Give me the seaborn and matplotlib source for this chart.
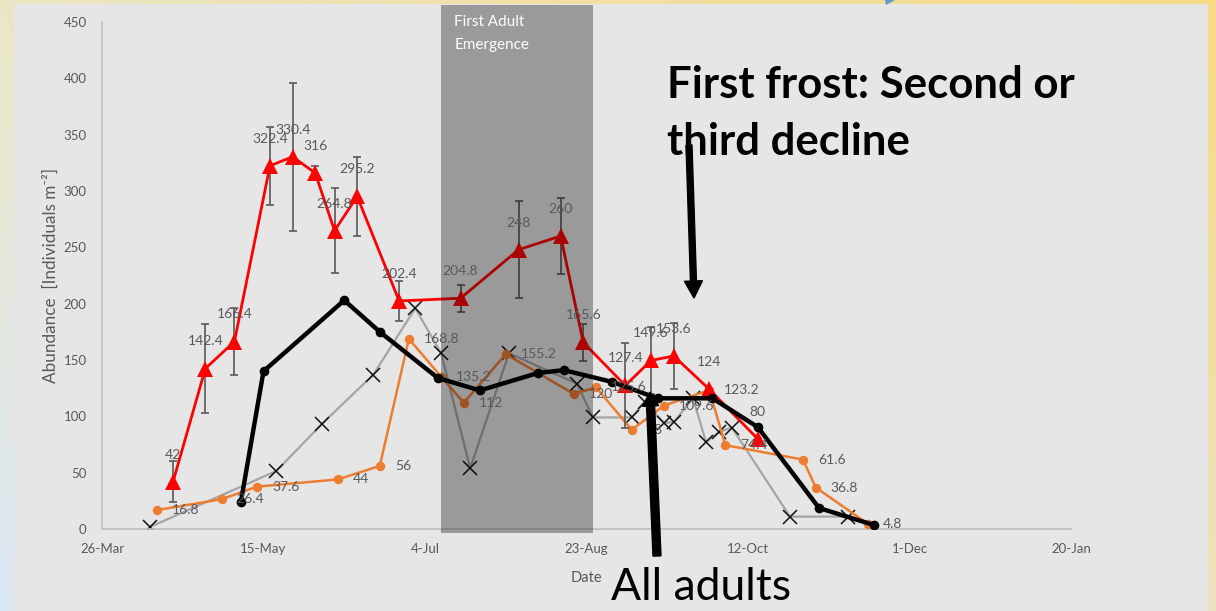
import numpy as np
import pandas as pd
import matplotlib
matplotlib.use("Agg")
import matplotlib.pyplot as plt
import matplotlib.dates as mdates
from matplotlib.patches import FancyArrow, Rectangle, Polygon
from matplotlib.transforms import IdentityTransform
import seaborn as sns

# ---- data: sampling dates and abundance (individuals per m^2) ----
red_dates = ["2019-04-17", "2019-04-27", "2019-05-06", "2019-05-17", "2019-05-24", "2019-05-31",
             "2019-06-06", "2019-06-13", "2019-06-26", "2019-07-15", "2019-08-02", "2019-08-15",
             "2019-08-22", "2019-09-04", "2019-09-12", "2019-09-19", "2019-09-30", "2019-10-15"]
red_values = [42, 142.4, 166.4, 322.4, 330.4, 316, 264.8, 295.2, 202.4, 204.8, 248, 260,
              165.6, 127.4, 149.6, 153.6, 124, 80]
red_err = [18, 39.5, 29.5, 34.5, 65.5, 6, 38, 35, 18, 12, 43, 34, 16.5, 38, 30, 29, 0, 0]

orange_dates = ["2019-04-12", "2019-05-02", "2019-05-13", "2019-06-07", "2019-06-20", "2019-06-29",
                "2019-07-09", "2019-07-16", "2019-07-29", "2019-08-19", "2019-08-26", "2019-09-06",
                "2019-09-16", "2019-09-30", "2019-10-05", "2019-10-29", "2019-11-02", "2019-11-18"]
orange_values = [16.8, 26.4, 37.6, 44, 56, 168.8, 135.2, 112, 155.2, 120, 125.6, 88, 109.6,
                 123.2, 74.4, 61.6, 36.8, 4.8]

gray_dates = ["2019-04-10", "2019-05-19", "2019-06-02", "2019-06-18", "2019-07-01", "2019-07-09",
              "2019-07-18", "2019-07-30", "2019-08-20", "2019-08-25", "2019-09-06", "2019-09-10",
              "2019-09-16", "2019-09-19", "2019-09-25", "2019-09-29", "2019-10-03", "2019-10-07",
              "2019-10-25", "2019-11-12"]
gray_values = [2, 51.5, 93, 137, 196, 156, 54, 156, 129, 99, 99, 113, 94, 95, 116, 77, 86, 90, 11, 11]

black_dates = ["2019-05-08", "2019-05-15", "2019-06-09", "2019-06-20", "2019-07-08", "2019-07-21",
               "2019-08-08", "2019-08-16", "2019-08-31", "2019-09-14", "2019-10-01", "2019-10-15",
               "2019-11-03", "2019-11-20"]
black_values = [24, 140, 203, 175, 134, 123, 138.5, 141, 130.5, 116, 116, 90.5, 18.6, 3.5]

emergence_start = "2019-07-09"
emergence_end = "2019-08-25"

x_start = "2019-03-26"
x_end = "2020-01-20"
y_ticks = [0, 50, 100, 150, 200, 250, 300, 350, 400, 450]

# ---- style ----
sns.set_style("white")
plt.rcParams["font.family"] = ["Lato", "DejaVu Sans"]
label_grey = "#595959"

W, H = 1216, 611
fig = plt.figure(figsize=(W / 100, H / 100), dpi=100)

# slide background: soft four-corner gradient
tl = np.array([236, 230, 196]) / 255
tr = np.array([248, 218, 132]) / 255
bl = np.array([218, 232, 246]) / 255
br = np.array([236, 226, 190]) / 255
yy = np.linspace(0, 1, H)[:, None, None]
xx = np.linspace(0, 1, W)[None, :, None]
grad = (1 - yy) * ((1 - xx) * tl + xx * tr) + yy * ((1 - xx) * bl + xx * br)
fig.figimage(np.clip(grad, 0, 1), 0, 0, origin="upper", zorder=-10)

# light grey chart panel
fig.add_artist(Rectangle((14, 0), 1208 - 14, H - 4, transform=IdentityTransform(),
                         facecolor="#e6e6e6", edgecolor="none", zorder=-5))
fig.add_artist(Polygon([(885, H), (895, H), (886, H - 5)], closed=True,
                       transform=IdentityTransform(), facecolor="#5b9bd5",
                       edgecolor="none", zorder=-4))

ax = fig.add_axes([102 / W, 1 - 529 / H, (1071 - 102) / W, (529 - 22) / H])
ax.set_facecolor("none")

red_dt = pd.to_datetime(red_dates)
orange_dt = pd.to_datetime(orange_dates)
gray_dt = pd.to_datetime(gray_dates)
black_dt = pd.to_datetime(black_dates)

sns.lineplot(x=gray_dt, y=gray_values, ax=ax, sort=False, errorbar=None,
             color="#a5a5a5", linewidth=1.6, marker="x", markersize=10.5,
             markeredgecolor="#111111", markeredgewidth=1.1, zorder=2)
sns.lineplot(x=orange_dt, y=orange_values, ax=ax, sort=False, errorbar=None,
             color="#ed7d31", linewidth=1.8, marker="o", markersize=6.8,
             markeredgewidth=0, zorder=3)
ax.errorbar(red_dt, red_values, yerr=red_err, fmt="none", ecolor=label_grey,
            elinewidth=1.2, capsize=3, capthick=1.2, zorder=3.5)
sns.lineplot(x=red_dt, y=red_values, ax=ax, sort=False, errorbar=None,
             color="#ff0000", linewidth=2.0, marker="^", markersize=11,
             markeredgewidth=0, zorder=4)
sns.lineplot(x=black_dt, y=black_values, ax=ax, sort=False, errorbar=None,
             color="black", linewidth=3.2, marker="o", markersize=7,
             markeredgewidth=0, zorder=5)

# translucent band marking first adult emergence
band = ax.axvspan(pd.Timestamp(emergence_start), pd.Timestamp(emergence_end),
                  ymin=-0.008, ymax=1.034, facecolor="black", alpha=0.33,
                  edgecolor="none", zorder=6)
band.set_clip_on(False)
ax.annotate("First Adult", xy=(pd.Timestamp(emergence_start), 1.0),
            xycoords=("data", "axes fraction"), xytext=(9.5, 0),
            textcoords="offset points", ha="left", va="center",
            color="white", fontsize=11, zorder=8)
ax.annotate("Emergence", xy=(pd.Timestamp(emergence_start), 1.0),
            xycoords=("data", "axes fraction"), xytext=(9.5, -16.5),
            textcoords="offset points", ha="left", va="center",
            color="white", fontsize=11, zorder=8)

# data labels
for d, v in zip(red_dt, red_values):
    ax.annotate(f"{v:g}", (d, v), xytext=(0, 19.5), textcoords="offset points",
                ha="center", va="center", fontsize=10, color=label_grey, zorder=7)
for d, v in zip(orange_dt, orange_values):
    ax.annotate(f"{v:g}", (d, v), xytext=(10.8, 0), textcoords="offset points",
                ha="left", va="center", fontsize=10, color=label_grey, zorder=7)

# axes
ax.set_xlim(pd.Timestamp(x_start), pd.Timestamp(x_end))
ax.set_ylim(y_ticks[0], y_ticks[-1])
ax.set_xticks(pd.date_range(x_start, x_end, freq="50D"))
ax.xaxis.set_major_formatter(mdates.DateFormatter("%-d-%b"))
ax.set_yticks(y_ticks)
ax.tick_params(length=0, colors=label_grey, labelsize=9.5)
ax.tick_params(axis="y", pad=11)
ax.tick_params(axis="x", pad=10)
for side in ("top", "right"):
    ax.spines[side].set_visible(False)
for side in ("left", "bottom"):
    ax.spines[side].set_color("#bfbfbf")
    ax.spines[side].set_linewidth(1.2)
ax.grid(False)

ax.set_ylabel("Abundance  [Individuals m\u207b\u00b2]", color=label_grey, fontsize=12.3)
ax.yaxis.set_label_coords(-0.045, 0.5)
ax.set_xlabel("Date", color=label_grey, fontsize=10.5)
ax.xaxis.set_label_coords(0.5, -0.083)

# annotations on the slide
fig.text(667 / W, 1 - 98 / H, "First frost: Second or", fontsize=31.5,
         fontweight="bold", color="black", ha="left", va="baseline")
fig.text(667 / W, 1 - 155 / H, "third decline", fontsize=31.5,
         fontweight="bold", color="black", ha="left", va="baseline")
fig.text(611 / W, 1 - 600 / H, "All adults", fontsize=32,
         color="black", ha="left", va="baseline")

fig.add_artist(FancyArrow(689, H - 145, 5, -153, width=6, head_width=18,
                          head_length=17, length_includes_head=True,
                          transform=IdentityTransform(), color="black", zorder=9))
fig.add_artist(FancyArrow(657, H - 556, -7, 164, width=8, head_width=16,
                          head_length=14, length_includes_head=True,
                          transform=IdentityTransform(), color="black", zorder=9))

fig.savefig("out.png", dpi=100)
